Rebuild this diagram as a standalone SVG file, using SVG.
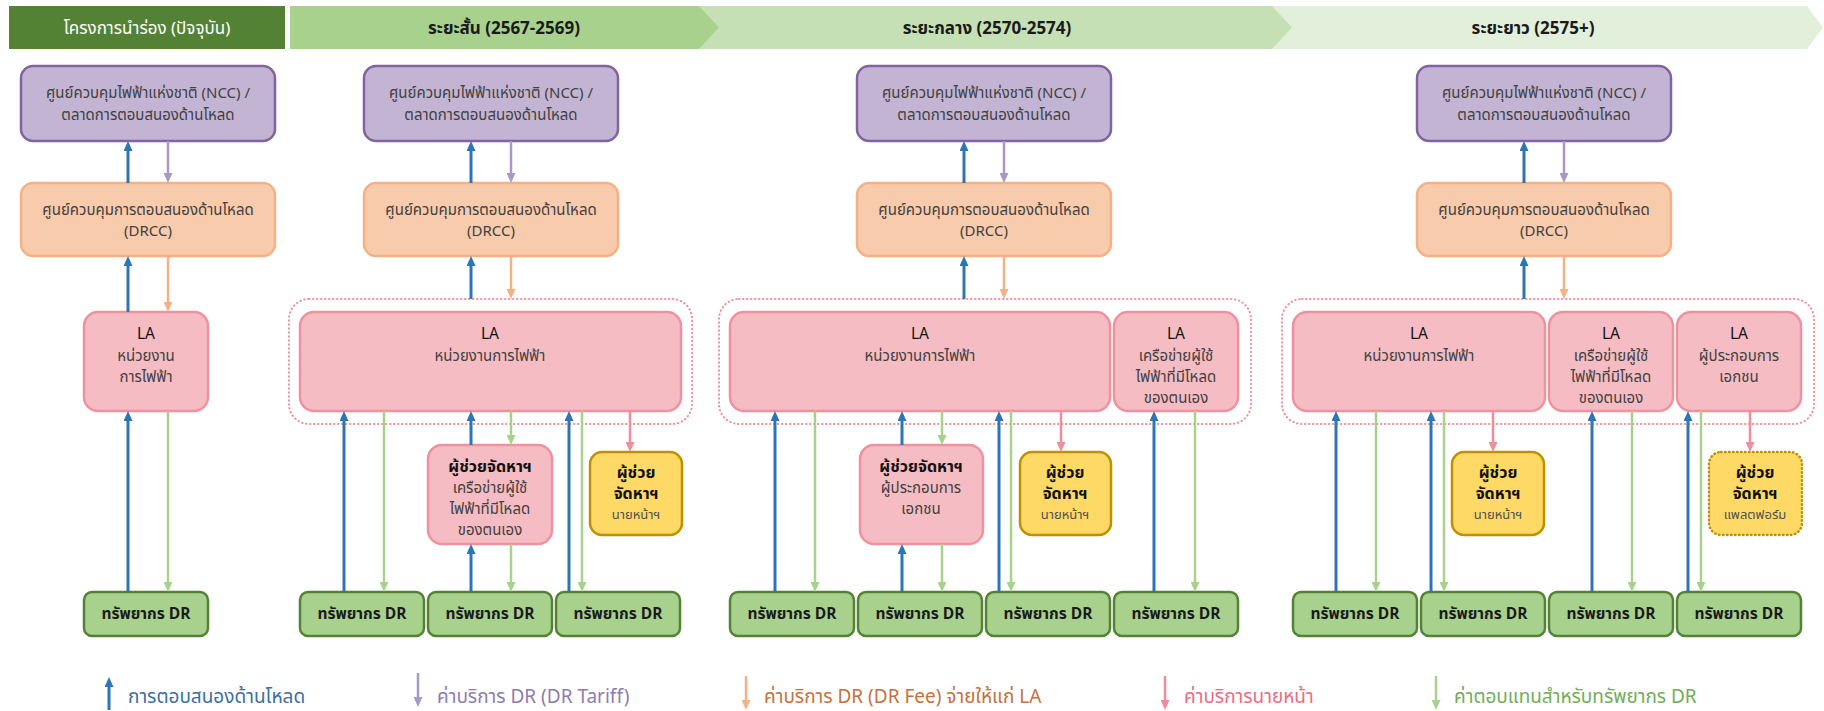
<svg xmlns="http://www.w3.org/2000/svg" width="1824" height="711" viewBox="0 0 1824 711">
<defs>
<style>
.ncc{fill:#C3B4D4;stroke:#8064A2;stroke-width:2.5}
.drcc{fill:#F8CBAD;stroke:#F4B183;stroke-width:2.5}
.la{fill:#F6BCC3;stroke:#F0929E;stroke-width:2.5}
.yel{fill:#FFD966;stroke:#BF9000;stroke-width:2.5}
.yeld{fill:#FFD966;stroke:#BF9000;stroke-width:2.5;stroke-dasharray:0.5 3.5;stroke-linecap:round}
.dr{fill:#A9D18E;stroke:#548235;stroke-width:2.5}
.grp{fill:none;stroke:#F0929E;stroke-width:2;stroke-dasharray:0.5 3.5;stroke-linecap:round}
text{font-family:"Noto Sans Thai","Leelawadee UI",Tahoma,"DejaVu Sans",sans-serif;text-anchor:middle}
.t{font-size:15px;fill:#404040}
.la-t{font-size:15.5px;fill:#111}
.b{font-size:16px;font-weight:bold;fill:#111}
.s{font-size:13px;fill:#505050}
.drt{font-size:15.5px;font-weight:bold;fill:#1a1a1a}
.h{font-size:17px;font-weight:bold;fill:#1a1a1a}
.lg{font-size:19px;text-anchor:start}
.cb{stroke:#2E75B6;stroke-width:3;fill:none}
.cp{stroke:#A898C8;stroke-width:2.5;fill:none}
.co{stroke:#F4B183;stroke-width:2.5;fill:none}
.ck{stroke:#F08C9C;stroke-width:2.5;fill:none}
.cg{stroke:#A9D18E;stroke-width:2.5;fill:none}
</style>
<marker id="mb" markerUnits="userSpaceOnUse" markerWidth="10" markerHeight="9" refX="6" refY="4.5" orient="auto"><path d="M0,0 L10,4.5 L0,9 z" fill="#2E75B6"/></marker>
<marker id="mp" markerUnits="userSpaceOnUse" markerWidth="10" markerHeight="9" refX="6" refY="4.5" orient="auto"><path d="M0,0 L10,4.5 L0,9 z" fill="#A898C8"/></marker>
<marker id="mo" markerUnits="userSpaceOnUse" markerWidth="10" markerHeight="9" refX="6" refY="4.5" orient="auto"><path d="M0,0 L10,4.5 L0,9 z" fill="#F4B183"/></marker>
<marker id="mk" markerUnits="userSpaceOnUse" markerWidth="10" markerHeight="9" refX="6" refY="4.5" orient="auto"><path d="M0,0 L10,4.5 L0,9 z" fill="#F08C9C"/></marker>
<marker id="mg" markerUnits="userSpaceOnUse" markerWidth="10" markerHeight="9" refX="6" refY="4.5" orient="auto"><path d="M0,0 L10,4.5 L0,9 z" fill="#A9D18E"/></marker>
</defs>
<rect width="1824" height="711" fill="#FFFFFF"/>

<g id="headers">
<polygon points="1260,6 1807,6 1823,27.5 1807,49 1260,49" fill="#E2EFDA"/>
<polygon points="700,6 1272,6 1292,27.5 1272,49 700,49" fill="#C5E0B4"/>
<polygon points="290,6 699,6 719,27.5 699,49 290,49" fill="#A9D18E"/>
<rect x="9" y="6" width="276" height="43" fill="#548235"/>
<text x="147" y="34" style="font-size:17px;fill:#FFFFFF">โครงการนำร่อง (ปัจจุบัน)</text>
<text class="h" x="504" y="34">ระยะสั้น (2567-2569)</text>
<text class="h" x="987" y="34">ระยะกลาง (2570-2574)</text>
<text class="h" x="1533" y="34">ระยะยาว (2575+)</text>
</g>

<g id="groups">
<rect class="grp" x="289" y="299" width="403" height="125" rx="20"/>
<rect class="grp" x="719" y="299" width="532" height="125" rx="20"/>
<rect class="grp" x="1282" y="299" width="532" height="125" rx="20"/>
</g>

<!-- Pilot column -->
<g id="ncc1"><rect class="ncc" x="21" y="66" width="254" height="75" rx="12"/><text class="t" x="148" y="98">ศูนย์ควบคุมไฟฟ้าแห่งชาติ (NCC) /</text><text class="t" x="148" y="120">ตลาดการตอบสนองด้านโหลด</text></g>
<g id="drcc1"><rect class="drcc" x="21" y="183" width="254" height="73" rx="12"/><text class="t" x="148" y="215">ศูนย์ควบคุมการตอบสนองด้านโหลด</text><text class="t" x="148" y="236">(DRCC)</text></g>
<g id="la1"><rect class="la" x="84" y="312" width="124" height="99" rx="14"/><text class="la-t" x="146" y="339">LA</text><text class="t" x="146" y="361">หน่วยงาน</text><text class="t" x="146" y="382">การไฟฟ้า</text></g>
<g id="dr1"><rect class="dr" x="84" y="592" width="124" height="44" rx="8"/><text class="drt" x="146" y="619">ทรัพยากร DR</text></g>

<!-- Short term -->
<g id="ncc2"><rect class="ncc" x="364" y="66" width="254" height="75" rx="12"/><text class="t" x="491" y="98">ศูนย์ควบคุมไฟฟ้าแห่งชาติ (NCC) /</text><text class="t" x="491" y="120">ตลาดการตอบสนองด้านโหลด</text></g>
<g id="drcc2"><rect class="drcc" x="364" y="183" width="254" height="73" rx="12"/><text class="t" x="491" y="215">ศูนย์ควบคุมการตอบสนองด้านโหลด</text><text class="t" x="491" y="236">(DRCC)</text></g>
<g id="la2"><rect class="la" x="300" y="312" width="381" height="99" rx="14"/><text class="la-t" x="490" y="339">LA</text><text class="t" x="490" y="361">หน่วยงานการไฟฟ้า</text></g>
<g id="agg2"><rect class="la" x="428" y="445" width="124" height="99" rx="14"/><text class="b" x="490" y="472">ผู้ช่วยจัดหาฯ</text><text class="t" x="490" y="493">เครือข่ายผู้ใช้</text><text class="t" x="490" y="514">ไฟฟ้าที่มีโหลด</text><text class="t" x="490" y="535">ของตนเอง</text></g>
<g id="brk2"><rect class="yel" x="590" y="452" width="92" height="83" rx="12"/><text class="b" x="636" y="478">ผู้ช่วย</text><text class="b" x="636" y="499">จัดหาฯ</text><text class="s" x="636" y="519">นายหน้าฯ</text></g>
<g id="dr2a"><rect class="dr" x="300" y="592" width="124" height="44" rx="8"/><text class="drt" x="362" y="619">ทรัพยากร DR</text></g>
<g id="dr2b"><rect class="dr" x="428" y="592" width="124" height="44" rx="8"/><text class="drt" x="490" y="619">ทรัพยากร DR</text></g>
<g id="dr2c"><rect class="dr" x="556" y="592" width="124" height="44" rx="8"/><text class="drt" x="618" y="619">ทรัพยากร DR</text></g>

<!-- Mid term -->
<g id="ncc3"><rect class="ncc" x="857" y="66" width="254" height="75" rx="12"/><text class="t" x="984" y="98">ศูนย์ควบคุมไฟฟ้าแห่งชาติ (NCC) /</text><text class="t" x="984" y="120">ตลาดการตอบสนองด้านโหลด</text></g>
<g id="drcc3"><rect class="drcc" x="857" y="183" width="254" height="73" rx="12"/><text class="t" x="984" y="215">ศูนย์ควบคุมการตอบสนองด้านโหลด</text><text class="t" x="984" y="236">(DRCC)</text></g>
<g id="la3"><rect class="la" x="730" y="312" width="380" height="99" rx="14"/><text class="la-t" x="920" y="339">LA</text><text class="t" x="920" y="361">หน่วยงานการไฟฟ้า</text></g>
<g id="la3b"><rect class="la" x="1114" y="312" width="124" height="99" rx="14"/><text class="la-t" x="1176" y="339">LA</text><text class="t" x="1176" y="361">เครือข่ายผู้ใช้</text><text class="t" x="1176" y="382">ไฟฟ้าที่มีโหลด</text><text class="t" x="1176" y="403">ของตนเอง</text></g>
<g id="agg3"><rect class="la" x="860" y="445" width="123" height="99" rx="14"/><text class="b" x="921" y="472">ผู้ช่วยจัดหาฯ</text><text class="t" x="921" y="493">ผู้ประกอบการ</text><text class="t" x="921" y="514">เอกชน</text></g>
<g id="brk3"><rect class="yel" x="1020" y="452" width="91" height="83" rx="12"/><text class="b" x="1065" y="478">ผู้ช่วย</text><text class="b" x="1065" y="499">จัดหาฯ</text><text class="s" x="1065" y="519">นายหน้าฯ</text></g>
<g id="dr3a"><rect class="dr" x="730" y="592" width="124" height="44" rx="8"/><text class="drt" x="792" y="619">ทรัพยากร DR</text></g>
<g id="dr3b"><rect class="dr" x="858" y="592" width="124" height="44" rx="8"/><text class="drt" x="920" y="619">ทรัพยากร DR</text></g>
<g id="dr3c"><rect class="dr" x="986" y="592" width="124" height="44" rx="8"/><text class="drt" x="1048" y="619">ทรัพยากร DR</text></g>
<g id="dr3d"><rect class="dr" x="1114" y="592" width="124" height="44" rx="8"/><text class="drt" x="1176" y="619">ทรัพยากร DR</text></g>

<!-- Long term -->
<g id="ncc4"><rect class="ncc" x="1417" y="66" width="254" height="75" rx="12"/><text class="t" x="1544" y="98">ศูนย์ควบคุมไฟฟ้าแห่งชาติ (NCC) /</text><text class="t" x="1544" y="120">ตลาดการตอบสนองด้านโหลด</text></g>
<g id="drcc4"><rect class="drcc" x="1417" y="183" width="254" height="73" rx="12"/><text class="t" x="1544" y="215">ศูนย์ควบคุมการตอบสนองด้านโหลด</text><text class="t" x="1544" y="236">(DRCC)</text></g>
<g id="la4"><rect class="la" x="1293" y="312" width="252" height="99" rx="14"/><text class="la-t" x="1419" y="339">LA</text><text class="t" x="1419" y="361">หน่วยงานการไฟฟ้า</text></g>
<g id="la4b"><rect class="la" x="1549" y="312" width="124" height="99" rx="14"/><text class="la-t" x="1611" y="339">LA</text><text class="t" x="1611" y="361">เครือข่ายผู้ใช้</text><text class="t" x="1611" y="382">ไฟฟ้าที่มีโหลด</text><text class="t" x="1611" y="403">ของตนเอง</text></g>
<g id="la4c"><rect class="la" x="1677" y="312" width="124" height="99" rx="14"/><text class="la-t" x="1739" y="339">LA</text><text class="t" x="1739" y="361">ผู้ประกอบการ</text><text class="t" x="1739" y="382">เอกชน</text></g>
<g id="brk4"><rect class="yel" x="1452" y="452" width="92" height="83" rx="12"/><text class="b" x="1498" y="478">ผู้ช่วย</text><text class="b" x="1498" y="499">จัดหาฯ</text><text class="s" x="1498" y="519">นายหน้าฯ</text></g>
<g id="plat4"><rect class="yeld" x="1709" y="452" width="93" height="83" rx="12"/><text class="b" x="1755" y="478">ผู้ช่วย</text><text class="b" x="1755" y="499">จัดหาฯ</text><text class="s" x="1755" y="519">แพลตฟอร์ม</text></g>
<g id="dr4a"><rect class="dr" x="1293" y="592" width="124" height="44" rx="8"/><text class="drt" x="1355" y="619">ทรัพยากร DR</text></g>
<g id="dr4b"><rect class="dr" x="1421" y="592" width="124" height="44" rx="8"/><text class="drt" x="1483" y="619">ทรัพยากร DR</text></g>
<g id="dr4c"><rect class="dr" x="1549" y="592" width="124" height="44" rx="8"/><text class="drt" x="1611" y="619">ทรัพยากร DR</text></g>
<g id="dr4d"><rect class="dr" x="1677" y="592" width="124" height="44" rx="8"/><text class="drt" x="1739" y="619">ทรัพยากร DR</text></g>

<g id="connectors">
<!-- pilot -->
<line class="cb" x1="128" y1="183" x2="128" y2="145" marker-end="url(#mb)"/>
<line class="cp" x1="168" y1="141" x2="168" y2="179" marker-end="url(#mp)"/>
<line class="cb" x1="128" y1="312" x2="128" y2="260" marker-end="url(#mb)"/>
<line class="co" x1="168" y1="256" x2="168" y2="308" marker-end="url(#mo)"/>
<line class="cb" x1="128" y1="592" x2="128" y2="415" marker-end="url(#mb)"/>
<line class="cg" x1="168" y1="411" x2="168" y2="588" marker-end="url(#mg)"/>
<!-- short -->
<line class="cb" x1="471" y1="183" x2="471" y2="145" marker-end="url(#mb)"/>
<line class="cp" x1="511" y1="141" x2="511" y2="179" marker-end="url(#mp)"/>
<line class="cb" x1="471" y1="299" x2="471" y2="260" marker-end="url(#mb)"/>
<line class="co" x1="511" y1="256" x2="511" y2="295" marker-end="url(#mo)"/>
<line class="cb" x1="344" y1="592" x2="344" y2="415" marker-end="url(#mb)"/>
<line class="cg" x1="384" y1="411" x2="384" y2="588" marker-end="url(#mg)"/>
<line class="cb" x1="471" y1="445" x2="471" y2="415" marker-end="url(#mb)"/>
<line class="cg" x1="511" y1="411" x2="511" y2="441" marker-end="url(#mg)"/>
<line class="cb" x1="471" y1="592" x2="471" y2="548" marker-end="url(#mb)"/>
<line class="cg" x1="511" y1="544" x2="511" y2="588" marker-end="url(#mg)"/>
<line class="cb" x1="569" y1="592" x2="569" y2="415" marker-end="url(#mb)"/>
<line class="cg" x1="582" y1="411" x2="582" y2="588" marker-end="url(#mg)"/>
<line class="ck" x1="630" y1="411" x2="630" y2="448" marker-end="url(#mk)"/>
<!-- mid -->
<line class="cb" x1="964" y1="183" x2="964" y2="145" marker-end="url(#mb)"/>
<line class="cp" x1="1004" y1="141" x2="1004" y2="179" marker-end="url(#mp)"/>
<line class="cb" x1="964" y1="299" x2="964" y2="260" marker-end="url(#mb)"/>
<line class="co" x1="1004" y1="256" x2="1004" y2="295" marker-end="url(#mo)"/>
<line class="cb" x1="775" y1="592" x2="775" y2="415" marker-end="url(#mb)"/>
<line class="cg" x1="815" y1="411" x2="815" y2="588" marker-end="url(#mg)"/>
<line class="cb" x1="902" y1="445" x2="902" y2="415" marker-end="url(#mb)"/>
<line class="cg" x1="942" y1="411" x2="942" y2="441" marker-end="url(#mg)"/>
<line class="cb" x1="902" y1="592" x2="902" y2="548" marker-end="url(#mb)"/>
<line class="cg" x1="942" y1="544" x2="942" y2="588" marker-end="url(#mg)"/>
<line class="cb" x1="999" y1="592" x2="999" y2="415" marker-end="url(#mb)"/>
<line class="cg" x1="1011" y1="411" x2="1011" y2="588" marker-end="url(#mg)"/>
<line class="ck" x1="1061" y1="411" x2="1061" y2="448" marker-end="url(#mk)"/>
<line class="cb" x1="1154" y1="592" x2="1154" y2="415" marker-end="url(#mb)"/>
<line class="cg" x1="1195" y1="411" x2="1195" y2="588" marker-end="url(#mg)"/>
<!-- long -->
<line class="cb" x1="1524" y1="183" x2="1524" y2="145" marker-end="url(#mb)"/>
<line class="cp" x1="1564" y1="141" x2="1564" y2="179" marker-end="url(#mp)"/>
<line class="cb" x1="1524" y1="299" x2="1524" y2="260" marker-end="url(#mb)"/>
<line class="co" x1="1564" y1="256" x2="1564" y2="295" marker-end="url(#mo)"/>
<line class="cb" x1="1336" y1="592" x2="1336" y2="415" marker-end="url(#mb)"/>
<line class="cg" x1="1376" y1="411" x2="1376" y2="588" marker-end="url(#mg)"/>
<line class="cb" x1="1431" y1="592" x2="1431" y2="415" marker-end="url(#mb)"/>
<line class="cg" x1="1444" y1="411" x2="1444" y2="588" marker-end="url(#mg)"/>
<line class="ck" x1="1493" y1="411" x2="1493" y2="448" marker-end="url(#mk)"/>
<line class="cb" x1="1592" y1="592" x2="1592" y2="415" marker-end="url(#mb)"/>
<line class="cg" x1="1632" y1="411" x2="1632" y2="588" marker-end="url(#mg)"/>
<line class="cb" x1="1688" y1="592" x2="1688" y2="415" marker-end="url(#mb)"/>
<line class="cg" x1="1701" y1="411" x2="1701" y2="588" marker-end="url(#mg)"/>
<line class="ck" x1="1750" y1="411" x2="1750" y2="448" marker-end="url(#mk)"/>
</g>

<g id="legend">
<line class="cb" x1="109" y1="710" x2="109" y2="681" marker-end="url(#mb)"/>
<text class="lg" x="128" y="703" fill="#3B6EA5">การตอบสนองด้านโหลด</text>
<line class="cp" x1="418" y1="673" x2="418" y2="703" marker-end="url(#mp)"/>
<text class="lg" x="437" y="703" fill="#8E7CB0">ค่าบริการ DR (DR Tariff)</text>
<line class="co" x1="746" y1="676" x2="746" y2="706" marker-end="url(#mo)"/>
<text class="lg" x="764" y="703" fill="#C8703A">ค่าบริการ DR (DR Fee) จ่ายให้แก่ LA</text>
<line class="ck" x1="1165" y1="676" x2="1165" y2="706" marker-end="url(#mk)"/>
<text class="lg" x="1184" y="703" fill="#EE6B82">ค่าบริการนายหน้า</text>
<line class="cg" x1="1436" y1="676" x2="1436" y2="706" marker-end="url(#mg)"/>
<text class="lg" x="1454" y="703" fill="#72AD58">ค่าตอบแทนสำหรับทรัพยากร DR</text>
</g>
</svg>
